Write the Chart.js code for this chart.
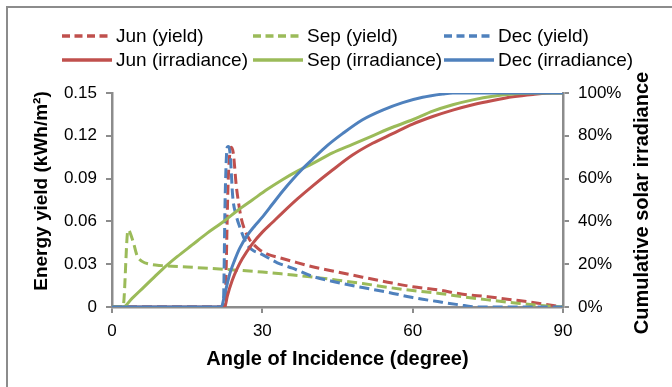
<!DOCTYPE html>
<html>
<head>
<meta charset="utf-8">
<script src="https://cdn.jsdelivr.net/npm/chart.js@4.4.0/dist/chart.umd.min.js"></script>
<style>
html,body{margin:0;padding:0;background:#fff;}
#wrap{position:relative;width:672px;height:387px;overflow:hidden;font-family:"Liberation Sans",Arial,sans-serif;}
#frame{position:absolute;left:6px;top:6px;width:720px;height:420px;border-left:2px solid #8c8c8c;border-top:2px solid #8c8c8c;}
canvas{position:absolute;left:0;top:0;}
.li{position:absolute;height:22px;display:flex;align-items:center;font-size:19px;color:#000;white-space:nowrap;}
.li svg{display:block;margin-right:4px;}
</style>
</head>
<body>
<div id="wrap">
  <div id="frame"></div>
  <canvas id="c" width="672" height="387"></canvas>
  <div id="legend"></div>
</div>
<script>
// ---- data ----
const seriesLabels = ['Jun (yield)', 'Sep (yield)', 'Dec (yield)', 'Jun (irradiance)', 'Sep (irradiance)', 'Dec (irradiance)'];

const junYieldAngle = [0, 22.5, 23.2, 23.8, 24.2, 24.8, 25.3, 25.8, 26.5, 27.5, 28.5, 29.5, 31, 33.5, 36, 40, 45, 50, 55, 60, 65, 70, 75, 80, 85, 90];
const junYieldValue = [0, 0, 0.090, 0.112, 0.108, 0.085, 0.072, 0.062, 0.054, 0.047, 0.043, 0.040, 0.037, 0.0345, 0.032, 0.0282, 0.0245, 0.0209, 0.0174, 0.0142, 0.0120, 0.0090, 0.0072, 0.0050, 0.0027, 0];

const sepYieldAngle = [0, 2.2, 3.2, 4.2, 5, 6, 7.5, 10, 15, 20, 25, 30, 35, 40, 45, 50, 55, 60, 65, 70, 75, 80, 85, 90];
const sepYieldValue = [0, 0, 0.054, 0.046, 0.036, 0.032, 0.030, 0.029, 0.028, 0.027, 0.0258, 0.0245, 0.0228, 0.0210, 0.0188, 0.0165, 0.0138, 0.0115, 0.0097, 0.0072, 0.0050, 0.0030, 0.0012, 0];

const decYieldAngle = [0, 22.2, 22.6, 23.0, 23.3, 23.6, 24.1, 24.8, 25.5, 26.8, 28, 29.5, 33, 36, 40, 45, 50, 55, 60, 65, 70, 73, 90];
const decYieldValue = [0, 0, 0.080, 0.112, 0.1125, 0.106, 0.077, 0.064, 0.056, 0.0447, 0.040, 0.0376, 0.031, 0.0272, 0.0215, 0.0172, 0.0136, 0.0104, 0.0066, 0.0038, 0.0012, 0, 0];

const junIrrAngle = [0, 22.5, 23, 24, 25, 26, 28, 30, 32, 34, 37, 40, 44, 48, 52, 56, 60, 64, 68, 72, 76, 80, 84, 88, 90];
const junIrrValue = [0, 0, 5, 12.5, 18, 22.5, 29.5, 35, 39.5, 44, 50.5, 56.5, 64, 71, 76.5, 81, 85.5, 89, 92, 94.5, 96.5, 98.2, 99.3, 100, 100];

const sepIrrAngle = [0, 2.2, 4, 6, 8, 10, 13, 16, 19, 22, 25, 28, 31, 34, 37, 40, 44, 48, 52, 56, 60, 64, 68, 72, 76, 80, 84, 90];
const sepIrrValue = [0, 0, 4, 8.5, 13, 17.5, 23.5, 29, 34.5, 39.5, 45, 50, 55, 59.5, 63.5, 67, 72, 76, 80, 84, 87.5, 91.5, 94.5, 96.8, 98.5, 99.5, 100, 100];

const decIrrAngle = [0, 21.8, 22.5, 23.5, 24.5, 25.5, 27, 28.5, 30, 32, 34, 36, 38, 40, 43, 46, 50, 54, 58, 62, 66, 68, 90];
const decIrrValue = [0, 0, 6, 15.5, 22, 27.5, 33.5, 38, 42, 48, 54, 59.5, 64.5, 69, 75.5, 81, 87.5, 92, 95.5, 98, 99.5, 100, 100];

const xTickValues = [0, 30, 60, 90];
const yTickLabels = ['0', '0.03', '0.06', '0.09', '0.12', '0.15'];
const y2TickLabels = ['0%', '20%', '40%', '60%', '80%', '100%'];

const seriesColors = ['#C0504D', '#9BBB59', '#4F81BD', '#C0504D', '#9BBB59', '#4F81BD'];
const seriesDashed = [true, true, true, false, false, false];

// ---- build ----
function pts(ax, vals) { return ax.map((a, i) => ({x: a, y: vals[i]})); }
const seriesData = [
  pts(junYieldAngle, junYieldValue),
  pts(sepYieldAngle, sepYieldValue),
  pts(decYieldAngle, decYieldValue),
  pts(junIrrAngle, junIrrValue),
  pts(sepIrrAngle, sepIrrValue),
  pts(decIrrAngle, decIrrValue)
];
const DASH = [10, 5];
const datasets = seriesData.map((d, i) => ({
  label: seriesLabels[i],
  data: d,
  borderColor: seriesColors[i],
  backgroundColor: seriesColors[i],
  borderWidth: 3,
  borderDash: seriesDashed[i] ? DASH : [],
  pointRadius: 0,
  fill: false,
  cubicInterpolationMode: 'monotone',
  yAxisID: i < 3 ? 'y' : 'y2',
  order: 5 - i
}));

const AXIS = '#8c8c8c';
const FONT = '"Liberation Sans", Arial, sans-serif';

const titlesPlugin = {
  id: 'vtitles',
  afterDraw(chart) {
    const {ctx, chartArea} = chart;
    ctx.save();
    ctx.fillStyle = '#000';
    ctx.font = 'bold 19px ' + FONT;
    ctx.textAlign = 'center';
    ctx.textBaseline = 'middle';
    ctx.translate(42, 191);
    ctx.rotate(-Math.PI / 2);
    ctx.fillText('Energy yield (kWh/m²)', 0, 0);
    ctx.restore();
    ctx.save();
    ctx.fillStyle = '#000';
    ctx.font = 'bold 20px ' + FONT;
    ctx.textAlign = 'center';
    ctx.textBaseline = 'middle';
    ctx.translate(642, (chartArea.top + chartArea.bottom) / 2 + 3);
    ctx.rotate(-Math.PI / 2);
    ctx.fillText('Cumulative solar irradiance', 0, 0);
    ctx.restore();
  }
};

new Chart(document.getElementById('c'), {
  type: 'line',
  data: {datasets},
  plugins: [titlesPlugin],
  options: {
    responsive: false,
    animation: false,
    devicePixelRatio: 1,
    layout: {padding: {top: 93, left: 0, right: 0, bottom: 0}},
    plugins: {legend: {display: false}, tooltip: {enabled: false}},
    scales: {
      x: {
        type: 'linear', min: 0, max: 90,
        afterFit: s => { s.height = 80; },
        afterBuildTicks: s => { s.ticks = xTickValues.map(v => ({value: v})); },
        ticks: {color: '#000', font: {size: 17, family: FONT}, padding: 8, maxRotation: 0},
        grid: {drawOnChartArea: false, drawTicks: true, tickLength: 6, color: AXIS, lineWidth: 2},
        border: {color: AXIS, width: 2.5},
        title: {display: true, text: 'Angle of Incidence (degree)', color: '#000',
                font: {size: 20, weight: 'bold', family: FONT}, padding: {top: 0, bottom: 16}}
      },
      y: {
        type: 'linear', position: 'left', min: 0, max: 0.15,
        afterFit: s => { s.width = 112; },
        afterBuildTicks: s => { s.ticks = yTickLabels.map((t, i) => ({value: i * 0.03})); },
        ticks: {color: '#000', font: {size: 17, family: FONT}, padding: 9,
                callback: (v, i) => yTickLabels[i]},
        grid: {drawOnChartArea: false, drawTicks: true, tickLength: 6, color: AXIS, lineWidth: 2},
        border: {color: AXIS, width: 2.5}
      },
      y2: {
        type: 'linear', position: 'right', min: 0, max: 100,
        afterFit: s => { s.width = 109; },
        afterBuildTicks: s => { s.ticks = y2TickLabels.map((t, i) => ({value: i * 20})); },
        ticks: {color: '#000', font: {size: 17, family: FONT}, padding: 9,
                callback: (v, i) => y2TickLabels[i]},
        grid: {drawOnChartArea: false, drawTicks: true, tickLength: 6, color: AXIS, lineWidth: 2},
        border: {color: AXIS, width: 2.5}
      }
    }
  }
});

// ---- HTML legend (3 columns x 2 rows) ----
const legendCols = [62, 253, 444];
const legendRows = [25, 49];
const legend = document.getElementById('legend');
seriesLabels.forEach((lab, i) => {
  const el = document.createElement('div');
  el.className = 'li';
  el.style.left = legendCols[i % 3] + 'px';
  el.style.top = legendRows[Math.floor(i / 3)] + 'px';
  const dash = seriesDashed[i] ? ' stroke-dasharray="8,4.5"' : '';
  el.innerHTML = '<svg width="50" height="6"><line x1="0" y1="3" x2="50" y2="3" stroke="' +
    seriesColors[i] + '" stroke-width="3.5"' + dash + '/></svg><span>' + lab + '</span>';
  legend.appendChild(el);
});
</script>
</body>
</html>
